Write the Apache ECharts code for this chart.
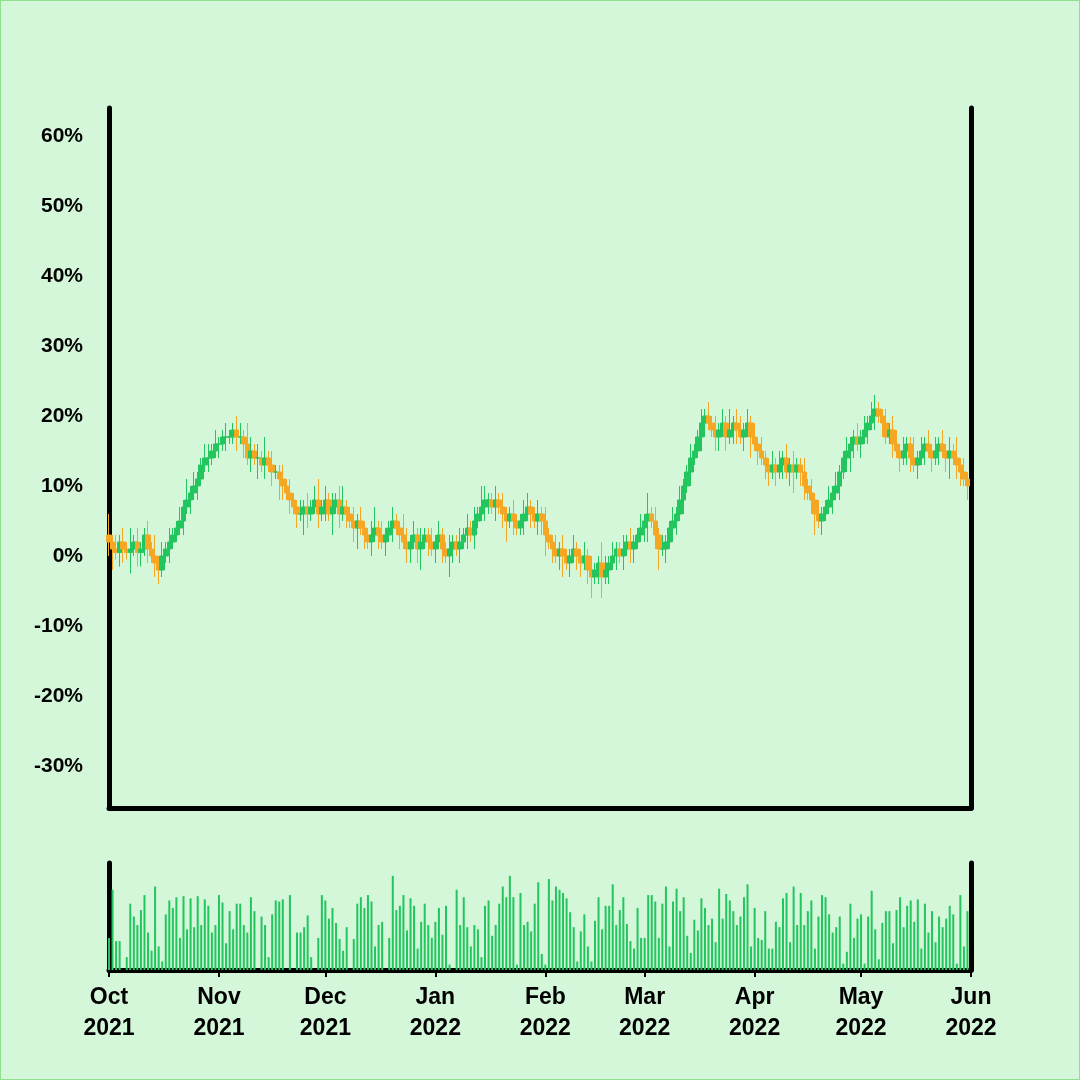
<!DOCTYPE html>
<html><head><meta charset="utf-8">
<script src="https://cdn.jsdelivr.net/npm/echarts@6/dist/echarts.min.js"></script>
<style>html,body{margin:0;padding:0;background:#d4f7d9;}#c{width:1078px;height:1078px;border:1px solid #8ee08e;}</style>
</head><body><div id="c"></div>
<script>
const startDate = '2021-10-01';
const closes = [
2,1,0.5,2,1,0.5,1,2,0.5,1,
3,1,0,-1,-2,0,1,2,3,4,
5,7,8,9,10,11,13,14,14,15,
16,16,17,17,17,18,17,17,16,14,
15,14,14,13,14,13,12,12,11,10,
9,8,7,6,6,7,6,7,8,6,
7,8,6,7,8,6,7,6,5,4,
5,4,3,2,3,4,3,2,3,4,
5,4,3,2,1,2,3,1,2,3,
2,1,2,3,1,0,1,2,1,2,
3,4,3,5,6,7,8,8,7,8,
7,6,5,6,5,4,5,6,7,6,
5,6,5,3,2,1,0,1,0,-1,
0,1,0,-1,0,-2,-3,-2,-1,-3,
-2,-1,0,1,0,1,2,1,2,3,
4,5,6,5,3,1,1,2,4,5,
6,8,10,12,14,15,17,19,20,19,
18,17,18,19,17,18,19,18,17,18,
19,17,16,15,14,13,12,13,12,13,
14,12,13,12,13,12,10,9,8,6,
5,6,7,8,9,10,12,14,15,16,
17,16,17,18,19,20,21,20,19,17,
18,16,15,14,15,16,14,13,14,15,
16,15,14,15,16,15,14,15,14,13,
12,11,10];
const firstOpen = 3;
const wickUp = [
3,1,2,1,2,1,3,1,2,1, 1,2,1,3,1,2,1,2,1,1, 2,1,3,1,2,1,1,2,2,1, 2,1,1,2,1,1,2,2,1,3,
2,1,2,1,3,1,2,1,1,2, 1,2,1,1,2,1,2,1,2,3, 1,2,1,2,1,2,3,1,1,2, 1,2,1,1,2,3,1,2,1,1,
2,1,1,3,2,1,2,1,2,1, 1,2,1,2,1,1,2,1,1,2, 1,2,1,2,1,3,2,1,1,2, 1,2,1,1,2,1,1,2,2,1,
1,2,1,2,1,1,2,1,2,1, 1,2,1,1,2,1,2,1,1,3, 2,1,2,1,1,2,1,2,1,1, 2,1,3,1,2,1,2,1,1,2,
1,2,1,1,2,1,1,2,1,2, 1,2,1,2,1,3,1,2,2,1, 2,1,2,1,2,1,1,2,1,2, 1,2,1,2,1,1,2,1,2,1,
2,1,1,2,1,2,1,1,2,1, 1,2,1,2,1,2,2,1,1,2, 1,2,2,1,2,1,1,3,1,2, 1,2,1,2,1,2,1,2,1,3,
1,2,1];
const wickDn = [
2,3,1,2,2,1,3,1,2,2, 1,2,1,2,2,1,1,2,1,1, 1,2,1,2,1,2,1,1,2,1, 1,2,1,2,1,1,2,1,2,1,
2,1,3,1,2,1,2,1,3,2, 1,2,1,2,1,3,2,1,1,2, 1,2,1,3,1,2,1,2,1,2, 3,1,2,1,2,1,2,1,2,1,
2,1,2,1,2,2,1,2,3,1, 2,1,2,1,2,1,3,2,1,2, 1,2,1,2,1,1,2,2,1,2, 1,2,3,1,2,1,1,2,1,2,
1,2,2,3,1,2,1,2,3,1, 2,1,2,2,1,2,3,1,2,3, 1,2,1,2,1,2,1,2,2,1, 1,2,3,1,2,3,1,2,1,2,
2,1,2,1,2,1,1,2,2,1, 1,2,2,1,2,1,2,2,1,2, 1,3,1,2,1,2,2,1,2,1, 2,1,2,3,1,2,2,1,2,3,
1,2,1,1,2,1,2,1,2,3, 2,1,2,1,2,1,2,1,2,1, 1,2,1,2,1,2,2,1,2,1, 2,1,2,1,2,1,2,3,1,2,
2,1,2];
const volumes = [
30,75,27,27,0,12,62,50,42,56,70,35,18,78,22,8,52,65,58,68,30,69,38,67,40,69,42,66,60,
35,42,70,63,25,55,38,62,62,42,35,68,55,0,50,42,12,52,65,64,66,0,70,0,35,35,40,51,12,
0,30,70,65,48,58,44,29,18,40,0,29,62,68,58,70,64,22,42,45,0,30,88,56,60,70,37,67,
60,20,45,62,42,30,45,58,33,60,5,0,75,42,68,40,22,42,38,12,60,65,32,42,62,78,68,
88,68,5,72,42,45,36,62,82,15,5,85,65,78,75,72,67,54,40,8,36,52,22,8,46,68,38,60,
60,80,42,56,68,43,27,20,58,30,30,70,70,64,30,62,78,22,64,76,55,68,32,16,47,37,
67,58,42,48,26,76,48,71,65,55,42,50,68,80,22,58,30,28,55,20,20,45,40,67,72,26,
78,42,72,42,55,65,20,50,70,68,52,35,40,50,6,17,62,30,48,52,6,50,74,38,10,44,55,
55,25,56,68,40,60,65,45,66,20,62,35,55,26,50,40,48,60,52,6,70,22,55,80,20,40,45];
const yTicks = [-30,-20,-10,0,10,20,30,40,50,60];

const dates = [];
{ const d0 = new Date(startDate + 'T00:00:00Z');
  for (let i = 0; i <= closes.length; i++) { const d = new Date(d0.getTime() + i*86400000); dates.push(d.toISOString().slice(0,10)); } }
const candle = closes.map((c,i) => {
  const o = i === 0 ? firstOpen : closes[i-1];
  return [o, c, Math.min(o,c) - wickDn[i], Math.max(o,c) + wickUp[i]];
});
const vols = volumes.slice(0, closes.length);
const months = ['Jan','Feb','Mar','Apr','May','Jun','Jul','Aug','Sep','Oct','Nov','Dec'];
const isFirst = (idx, val) => val.slice(8) === '01';
const lbl = {fontFamily:'Liberation Sans, Arial', fontWeight:'bold', fontSize:23, color:'#000', lineHeight:31, margin:12,
  interval: isFirst, formatter: v => months[+v.slice(5,7)-1] + '\n' + v.slice(0,4)};
const axLine = {show:true, onZero:false, lineStyle:{color:'#000', width:5, cap:'round'}};
const chart = echarts.init(document.getElementById('c'));
chart.setOption({
  backgroundColor:'#d4f7d9',
  animation:false,
  grid:[{left:108,right:108,top:107,bottom:271},{left:108,right:108,top:862,bottom:109}],
  xAxis:[
    {type:'category', gridIndex:0, data:dates, boundaryGap:false, axisLine:axLine, axisTick:{show:false}, axisLabel:{show:false}, splitLine:{show:false}},
    {type:'category', gridIndex:1, data:dates, boundaryGap:false, axisLine:axLine, axisTick:{show:true, interval:isFirst, length:7, lineStyle:{color:'#000',width:2}}, axisLabel:lbl, splitLine:{show:false}}
  ],
  yAxis:[
    {type:'value', gridIndex:0, min:-36, max:64, axisLine:axLine, splitLine:{show:false},
     axisTick:{show:false},
     axisLabel:{customValues:yTicks, formatter:'{value}%', fontFamily:'Liberation Sans, Arial', fontWeight:'bold', fontSize:21, color:'#000', margin:26}},
    {type:'value', gridIndex:0, min:-36, max:64, position:'right', axisLine:axLine, axisTick:{show:false}, axisLabel:{show:false}, splitLine:{show:false}},
    {type:'value', gridIndex:1, min:0, max:100, axisLine:axLine, axisTick:{show:false}, axisLabel:{show:false}, splitLine:{show:false}},
    {type:'value', gridIndex:1, min:0, max:100, position:'right', axisLine:axLine, axisTick:{show:false}, axisLabel:{show:false}, splitLine:{show:false}}
  ],
  series:[
    {type:'candlestick', xAxisIndex:0, yAxisIndex:0, data:candle, barWidth:5,
     itemStyle:{color:'#22c55e', color0:'#f5a623', borderColor:'#22c55e', borderColor0:'#f5a623', borderWidth:1}},
    {type:'bar', xAxisIndex:1, yAxisIndex:2, data:vols, barWidth:2, itemStyle:{color:'#22c55e'}}
  ]
});
</script></body></html>
